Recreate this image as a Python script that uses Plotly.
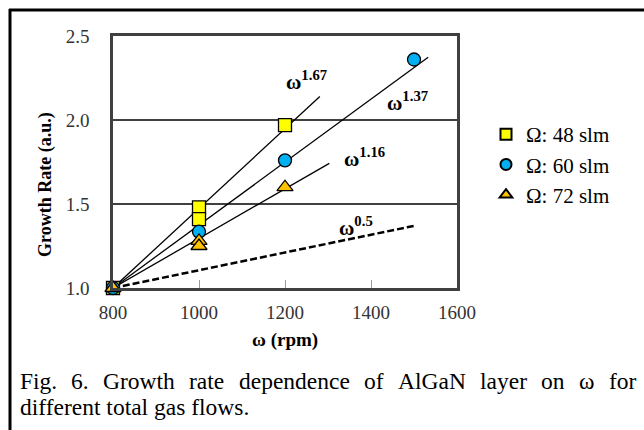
import plotly.graph_objects as go

# ---- data ----
rpm_48 = [800, 1000, 1000, 1200]
gr_48 = [1.00, 1.48, 1.41, 1.97]
rpm_60 = [800, 1000, 1200, 1500]
gr_60 = [1.00, 1.335, 1.76, 2.36]
rpm_72 = [800, 1000, 1000, 1200]
gr_72 = [1.00, 1.28, 1.25, 1.60]

fit167_x = [800, 1281]
fit167_y = [1.0, 2.14]
fit137_x = [800, 1533]
fit137_y = [1.0, 2.373]
fit116_x = [800, 1303]
fit116_y = [1.0, 1.742]
fit05_x = [800, 1500]
fit05_y = [1.0, 1.37]

fit_labels = ["1.67", "1.37", "1.16", "0.5"]
fit_label_x = [1249, 1484, 1384, 1365]
fit_label_y = [2.238, 2.113, 1.774, 1.369]

series_names = ["Ω: 48 slm", "Ω: 60 slm", "Ω: 72 slm"]
series_colors = ["#FFFF00", "#00B0F0", "#FFC000"]
series_symbols = ["square", "circle", "triangle-up"]

x_ticks = [800, 1000, 1200, 1400, 1600]
y_ticks = [1.0, 1.5, 2.0, 2.5]

caption1_words = ["Fig.", "6.", "Growth", "rate", "dependence", "of", "AlGaN",
                  "layer", "on", "ω", "for"]
caption1_px = [18, 69.4, 101.2, 187.2, 236.6, 361.7, 395.5, 477.6, 538.8, 576.5, 606.8]
caption2 = "different total gas flows."

SERIF = "Liberation Serif"

# plot area geometry (pixels)
L, R, T, B = 113, 457, 36, 288
W, H = 644, 430

def px2paper_x(px):
    return (px - L) / (R - L)

def py2paper_y(py):
    return (B - py) / (B - T)

fig = go.Figure()

# fit lines
for fx, fy in [(fit167_x, fit167_y), (fit137_x, fit137_y), (fit116_x, fit116_y)]:
    fig.add_trace(go.Scatter(x=fx, y=fy, mode="lines",
                             line=dict(color="black", width=1.3),
                             showlegend=False, hoverinfo="skip"))
fig.add_trace(go.Scatter(x=fit05_x, y=fit05_y, mode="lines",
                         line=dict(color="black", width=2.5, dash="7px,3px"),
                         showlegend=False, hoverinfo="skip"))

# data markers
for xs, ys, name, col, sym in zip([rpm_48, rpm_60, rpm_72], [gr_48, gr_60, gr_72],
                                  series_names, series_colors, series_symbols):
    size = 14 if sym == "triangle-up" else 13
    fig.add_trace(go.Scatter(x=xs, y=ys, mode="markers", name=name,
                             cliponaxis=False,
                             marker=dict(symbol=sym, size=size, color=col,
                                         line=dict(color="black", width=1.3)),
                             showlegend=False))

# legend entries
for i, (name, col, sym) in enumerate(zip(series_names, series_colors, series_symbols)):
    fig.add_trace(go.Scatter(x=[None], y=[None], mode="markers", name=name,
                             legendgroup=f"g{i}",
                             marker=dict(symbol=sym, size=11, color=col,
                                         line=dict(color="black", width=2)),
                             showlegend=True))

annotations = []
for lab, lx, ly in zip(fit_labels, fit_label_x, fit_label_y):
    annotations.append(dict(x=lx, y=ly, xref="x", yref="y", xanchor="center", yanchor="middle",
                            text=f"<b>ω<sup>{lab}</sup></b>", showarrow=False,
                            font=dict(family=SERIF, size=21, color="black")))

annotations.append(dict(x=px2paper_x(45), y=py2paper_y(185), xref="paper", yref="paper",
                        xanchor="center", yanchor="middle",
                        text="<b>Growth Rate (a.u.)</b>", textangle=-90, showarrow=False,
                        font=dict(family=SERIF, size=18, color="black")))
annotations.append(dict(x=px2paper_x(285), y=py2paper_y(340), xref="paper", yref="paper",
                        xanchor="center", yanchor="middle",
                        text="<b>ω (rpm)</b>", showarrow=False,
                        font=dict(family=SERIF, size=19, color="black")))

for w, p in zip(caption1_words, caption1_px):
    annotations.append(dict(x=px2paper_x(p), y=py2paper_y(381), xref="paper", yref="paper",
                            xanchor="left", yanchor="middle", text=w, showarrow=False,
                            font=dict(family=SERIF, size=23.5, color="black")))
annotations.append(dict(x=px2paper_x(18), y=py2paper_y(407), xref="paper", yref="paper",
                        xanchor="left", yanchor="middle", text=caption2, showarrow=False,
                        font=dict(family=SERIF, size=23.5, color="black")))

shapes = [
    dict(type="line", xref="paper", yref="paper",
         x0=px2paper_x(9), x1=px2paper_x(650), y0=py2paper_y(10), y1=py2paper_y(10),
         line=dict(color="black", width=3)),
    dict(type="line", xref="paper", yref="paper",
         x0=px2paper_x(10), x1=px2paper_x(10), y0=py2paper_y(9), y1=py2paper_y(440),
         line=dict(color="black", width=3)),
]

fig.update_layout(
    width=W, height=H,
    margin=dict(l=L, r=W - R, t=T, b=H - B, pad=0),
    paper_bgcolor="white", plot_bgcolor="white",
    font=dict(family=SERIF, color="black"),
    annotations=annotations, shapes=shapes,
    legend=dict(x=px2paper_x(486), y=py2paper_y(114), xanchor="left", yanchor="top",
                font=dict(family=SERIF, size=21, color="black"),
                tracegroupgap=0, bgcolor="rgba(0,0,0,0)"),
    xaxis=dict(range=[800, 1600], tickvals=x_ticks, ticks="inside", ticklen=8,
               tickcolor="#999999", tickwidth=1,
               showgrid=False, zeroline=False, showline=True, mirror=True,
               linecolor="#404040", linewidth=2.5,
               tickfont=dict(family=SERIF, size=19, color="#333333"),
               ticklabelstandoff=5),
    yaxis=dict(range=[1.0, 2.5], tickvals=y_ticks, tickformat=".1f", ticks="",
               showgrid=True, gridcolor="#404040", gridwidth=1.5, zeroline=False,
               showline=True, mirror=True, linecolor="#404040", linewidth=2.5,
               tickfont=dict(family=SERIF, size=19, color="#333333"),
               ticklabelstandoff=17),
)

fig.write_html("out.html", config={"displayModeBar": False},
               post_script="document.body.style.margin='0';document.body.style.overflow='hidden';")
